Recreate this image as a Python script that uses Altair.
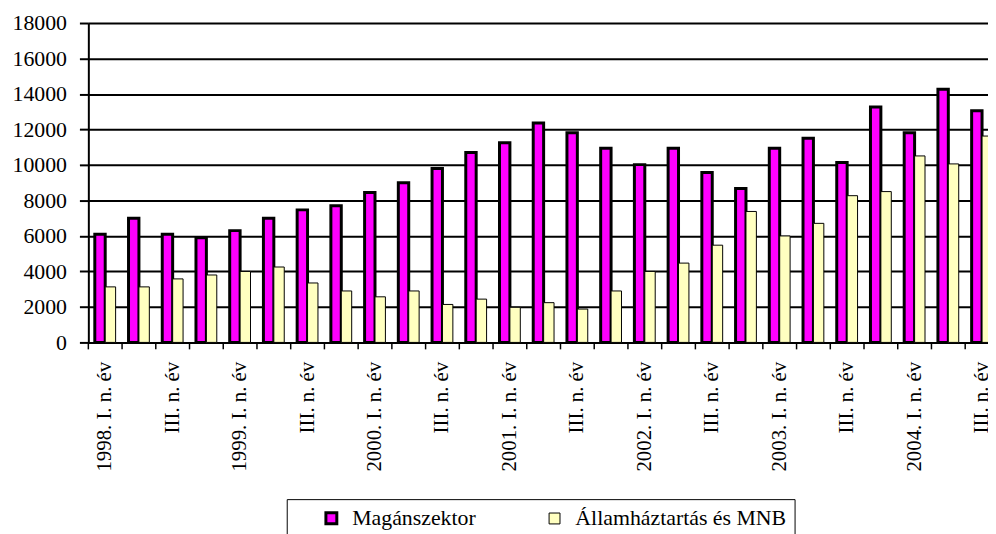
import altair as alt
import pandas as pd
import json

quarters = [f"{y} Q{q}" for y in range(1998, 2005) for q in range(1, 5)][:27]
tick_labels = []
for k in quarters:
    y, q = k.split(" Q")
    if q == "1":
        tick_labels.append(f"{y}. I. n. év")
    elif q == "3":
        tick_labels.append("III. n. év")
    else:
        tick_labels.append("")

series_names = ["Magánszektor", "Államháztartás és MNB"]

maganszektor = [6100, 7000, 6100, 5900, 6300, 7000, 7470, 7700, 8450, 9000,
                9800, 10700, 11250, 12370, 11810, 10940, 10020, 10940, 9580, 8680,
                10940, 11500, 10140, 13270, 11810, 14270, 13060]
allamhaztartas = [3130, 3130, 3580, 3800, 4000, 4250, 3350, 2900, 2570, 2900,
                  2140, 2440, 1980, 2240, 1880, 2900, 4000, 4470, 5480, 7380,
                  6000, 6710, 8270, 8500, 10510, 10060, 11630]

rows = []
for k, v in zip(quarters, maganszektor):
    rows.append({"q": k, "series": series_names[0], "value": v})
for k, v in zip(quarters, allamhaztartas):
    rows.append({"q": k, "series": series_names[1], "value": v})
df = pd.DataFrame(rows)

FONT = "Liberation Serif"
label_expr = f"{json.dumps(tick_labels, ensure_ascii=False)}[indexof({json.dumps(quarters)}, datum.value)]"

xscale = alt.Scale(domain=quarters, range=[0, 918], paddingInner=0, paddingOuter=0)

legend = alt.Legend(
    title=None, orient="none", legendX=200, legendY=480, direction="horizontal",
    fillColor="white", strokeColor="black", padding=8,
    symbolType="square", symbolSize=121, symbolStrokeColor="black", symbolStrokeWidth=2.5,
    symbolOpacity=1,
    symbolOffset=26, labelOffset=10, columnPadding=42, labelLimit=0,
    labelFont=FONT, labelFontSize=22, labelColor="black",
)

bars = alt.Chart(df).mark_bar(stroke="black").encode(
    x=alt.X("q:N", scale=xscale, sort=quarters,
            axis=alt.Axis(title=None, ticks=False, tickSize=0, domain=True, domainColor="black",
                          domainWidth=2, labelAngle=270, labelPadding=19, labelFont=FONT,
                          labelFontSize=21, labelColor="black", labelExpr=label_expr, grid=False)),
    xOffset=alt.XOffset("series:N", sort=series_names,
                        scale=alt.Scale(domain=series_names, paddingInner=0, paddingOuter=0.62)),
    y=alt.Y("value:Q", stack=None, scale=alt.Scale(domain=[0, 18000], nice=False),
            axis=alt.Axis(title=None, values=list(range(0, 18001, 2000)), format="d", grid=True,
                          gridColor="black", gridWidth=2, gridOpacity=1,
                          domainColor="black", domainWidth=2, tickColor="black",
                          tickWidth=2, tickSize=9, labelPadding=13, labelFont=FONT,
                          labelFontSize=22, labelColor="black")),
    color=alt.Color("series:N", scale=alt.Scale(domain=series_names, range=["#FF00FF", "#FFFFC0"]),
                    legend=legend),
    strokeWidth=alt.StrokeWidth("series:N", scale=alt.Scale(domain=series_names, range=[3, 1]),
                                legend=None),
)

ticks = alt.Chart(pd.DataFrame({"q": quarters})).mark_rule(color="black", strokeWidth=1.5).encode(
    x=alt.X("q:N", scale=xscale, sort=quarters, bandPosition=0),
    y=alt.value(322),
    y2=alt.value(329),
)

chart = alt.layer(bars, ticks).properties(
    width=907, height=322,
    autosize=alt.AutoSizeParams(type="none"),
    padding={"left": 81, "top": 13, "right": 0, "bottom": 191},
).configure_view(strokeWidth=0)

chart.save("out.html", embed_options={"renderer": "svg", "actions": False})
